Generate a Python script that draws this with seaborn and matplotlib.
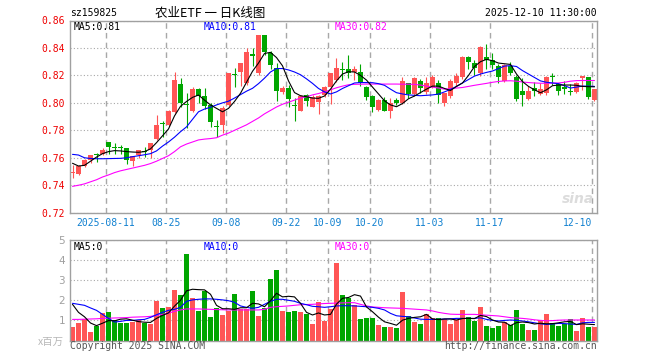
import numpy as np
import pandas as pd
import matplotlib
matplotlib.use("Agg")
import matplotlib.pyplot as plt
import seaborn as sns

# trading days (Oct 1-8 holiday)
days = pd.bdate_range("2025-08-01", "2025-12-10")
days = days[(days < "2025-10-01") | (days > "2025-10-08")]
date_str = [d.strftime("%Y-%m-%d") for d in days]

tick_dates = ["2025-08-11", "2025-08-25", "2025-09-08", "2025-09-22", "2025-10-09",
              "2025-10-20", "2025-11-03", "2025-11-17", "2025-12-10"]
tick_labels = ["2025-08-11", "08-25", "09-08", "09-22", "10-09", "10-20", "11-03", "11-17", "12-10"]

opens = [0.7488, 0.7485, 0.7540, 0.7587, 0.7625, 0.7627, 0.7714, 0.7675, 0.7672, 0.7668,
         0.7578, 0.7620, 0.7646, 0.7656, 0.7736, 0.7852, 0.7838, 0.7935, 0.8137, 0.7988,
         0.7942, 0.8098, 0.8050, 0.7985, 0.7828, 0.7838, 0.7985, 0.8205, 0.8227, 0.8147,
         0.8352, 0.8215, 0.8494, 0.8361, 0.8251, 0.8081, 0.8106, 0.7980, 0.7942, 0.8057,
         0.7972, 0.8008, 0.8057, 0.8117, 0.8166, 0.8246, 0.8246, 0.8222, 0.8222, 0.8118,
         0.8050, 0.7947, 0.8021, 0.7943, 0.8021, 0.8001, 0.8142, 0.8064, 0.8160, 0.8080,
         0.8117, 0.8147, 0.8000, 0.8050, 0.8142, 0.8190, 0.8336, 0.8293, 0.8215, 0.8336,
         0.8312, 0.8267, 0.8161, 0.8267, 0.8190, 0.8088, 0.8025, 0.8110, 0.8064, 0.8069,
         0.8192, 0.8137, 0.8108, 0.8083, 0.8081, 0.8183, 0.8186, 0.8020]
highs = [0.7546, 0.7545, 0.7592, 0.7622, 0.7635, 0.7670, 0.7716, 0.7710, 0.7690, 0.7670,
         0.7615, 0.7660, 0.7675, 0.7710, 0.7910, 0.7867, 0.7950, 0.8227, 0.8180, 0.8070,
         0.8115, 0.8105, 0.8106, 0.8000, 0.7875, 0.7975, 0.8220, 0.8255, 0.8290, 0.8397,
         0.8397, 0.8498, 0.8494, 0.8380, 0.8288, 0.8120, 0.8130, 0.8033, 0.8055, 0.8065,
         0.8055, 0.8060, 0.8125, 0.8220, 0.8324, 0.8300, 0.8348, 0.8270, 0.8280, 0.8125,
         0.8055, 0.8025, 0.8045, 0.8035, 0.8035, 0.8185, 0.8145, 0.8190, 0.8175, 0.8185,
         0.8200, 0.8170, 0.8075, 0.8175, 0.8220, 0.8340, 0.8340, 0.8310, 0.8412, 0.8429,
         0.8360, 0.8280, 0.8285, 0.8300, 0.8205, 0.8180, 0.8125, 0.8150, 0.8145, 0.8195,
         0.8220, 0.8145, 0.8157, 0.8137, 0.8150, 0.8197, 0.8190, 0.8098]
lows = [0.7456, 0.7475, 0.7535, 0.7560, 0.7570, 0.7620, 0.7630, 0.7625, 0.7625, 0.7552,
        0.7540, 0.7595, 0.7605, 0.7600, 0.7730, 0.7755, 0.7830, 0.7925, 0.7970, 0.7815,
        0.7935, 0.7996, 0.7953, 0.7826, 0.7750, 0.7780, 0.7975, 0.8117, 0.8120, 0.8130,
        0.8270, 0.8205, 0.8350, 0.8245, 0.8015, 0.8068, 0.7970, 0.7870, 0.7938, 0.7975,
        0.7968, 0.7920, 0.8045, 0.7990, 0.8150, 0.8166, 0.8179, 0.8170, 0.8125, 0.8020,
        0.7935, 0.7940, 0.7940, 0.7887, 0.7985, 0.7995, 0.8035, 0.8050, 0.8070, 0.8064,
        0.8105, 0.8000, 0.7975, 0.8035, 0.8125, 0.8175, 0.8244, 0.8200, 0.8195, 0.8244,
        0.8244, 0.8143, 0.8155, 0.8205, 0.8010, 0.7977, 0.8020, 0.8050, 0.8055, 0.8055,
        0.8130, 0.8055, 0.8064, 0.8060, 0.8075, 0.8093, 0.8025, 0.8012]
closes = [0.7490, 0.7538, 0.7587, 0.7617, 0.7620, 0.7656, 0.7676, 0.7670, 0.7668, 0.7585,
          0.7612, 0.7656, 0.7642, 0.7705, 0.7838, 0.7848, 0.7942, 0.8166, 0.8000, 0.7982,
          0.8098, 0.8049, 0.7977, 0.7862, 0.7824, 0.7960, 0.8215, 0.8200, 0.8288, 0.8373,
          0.8345, 0.8494, 0.8373, 0.8276, 0.8088, 0.8106, 0.8028, 0.7975, 0.8050, 0.8010,
          0.8045, 0.8050, 0.8118, 0.8215, 0.8251, 0.8242, 0.8215, 0.8246, 0.8145, 0.8041,
          0.7972, 0.8021, 0.7943, 0.8001, 0.8001, 0.8161, 0.8064, 0.8183, 0.8110, 0.8142,
          0.8190, 0.8057, 0.8069, 0.8161, 0.8195, 0.8336, 0.8300, 0.8256, 0.8405, 0.8312,
          0.8276, 0.8186, 0.8276, 0.8219, 0.8025, 0.8057, 0.8088, 0.8088, 0.8098, 0.8190,
          0.8188, 0.8088, 0.8104, 0.8079, 0.8142, 0.8195, 0.8040, 0.8098]

ma5 = [0.7560, 0.7540, 0.7545, 0.7575, 0.7605, 0.7630, 0.7645, 0.7652, 0.7650, 0.7645,
       0.7642, 0.7640, 0.7645, 0.7665, 0.7710, 0.7760, 0.7810, 0.7905, 0.7975, 0.8010,
       0.8040, 0.8057, 0.8020, 0.7985, 0.7960, 0.7935, 0.7960, 0.8010, 0.8070, 0.8150,
       0.8230, 0.8290, 0.8360, 0.8368, 0.8330, 0.8270, 0.8160, 0.8075, 0.8052, 0.8045,
       0.8035, 0.8033, 0.8050, 0.8100, 0.8160, 0.8210, 0.8227, 0.8225, 0.8200, 0.8166,
       0.8115, 0.8065, 0.8015, 0.7985, 0.7972, 0.7995, 0.8030, 0.8050, 0.8075, 0.8100,
       0.8122, 0.8122, 0.8105, 0.8090, 0.8120, 0.8145, 0.8200, 0.8265, 0.8300, 0.8317,
       0.8307, 0.8290, 0.8285, 0.8280, 0.8210, 0.8155, 0.8120, 0.8095, 0.8074, 0.8095,
       0.8125, 0.8130, 0.8130, 0.8130, 0.8128, 0.8120, 0.8118, 0.8117]
ma10 = [0.7625, 0.7620, 0.7600, 0.7595, 0.7593, 0.7593, 0.7594, 0.7595, 0.7596, 0.7600,
        0.7608, 0.7615, 0.7622, 0.7630, 0.7650, 0.7685, 0.7715, 0.7750, 0.7790, 0.7825,
        0.7880, 0.7935, 0.7955, 0.7968, 0.7985, 0.8000, 0.8012, 0.8035, 0.8060, 0.8085,
        0.8106, 0.8140, 0.8180, 0.8225, 0.8250, 0.8250, 0.8240, 0.8225, 0.8205, 0.8175,
        0.8142, 0.8105, 0.8080, 0.8065, 0.8080, 0.8105, 0.8125, 0.8145, 0.8148, 0.8148,
        0.8147, 0.8140, 0.8128, 0.8100, 0.8074, 0.8065, 0.8058, 0.8055, 0.8052, 0.8055,
        0.8058, 0.8064, 0.8080, 0.8098, 0.8120, 0.8145, 0.8170, 0.8195, 0.8210, 0.8222,
        0.8232, 0.8250, 0.8268, 0.8271, 0.8265, 0.8235, 0.8210, 0.8185, 0.8160, 0.8150,
        0.8145, 0.8140, 0.8125, 0.8108, 0.8115, 0.8122, 0.8122, 0.8120]
ma30 = [0.7392, 0.7400, 0.7410, 0.7425, 0.7440, 0.7460, 0.7475, 0.7492, 0.7505, 0.7515,
        0.7525, 0.7535, 0.7545, 0.7558, 0.7575, 0.7595, 0.7615, 0.7645, 0.7680, 0.7700,
        0.7715, 0.7730, 0.7736, 0.7740, 0.7746, 0.7765, 0.7780, 0.7800, 0.7820, 0.7840,
        0.7865, 0.7890, 0.7920, 0.7945, 0.7970, 0.7990, 0.8005, 0.8020, 0.8035, 0.8045,
        0.8058, 0.8068, 0.8080, 0.8095, 0.8110, 0.8122, 0.8132, 0.8135, 0.8136, 0.8137,
        0.8137, 0.8137, 0.8137, 0.8137, 0.8137, 0.8136, 0.8136, 0.8135, 0.8130, 0.8122,
        0.8115, 0.8108, 0.8100, 0.8104, 0.8108, 0.8112, 0.8120, 0.8128, 0.8135, 0.8142,
        0.8150, 0.8156, 0.8160, 0.8161, 0.8158, 0.8152, 0.8148, 0.8145, 0.8143, 0.8143,
        0.8144, 0.8145, 0.8150, 0.8158, 0.8162, 0.8163, 0.8163, 0.8163]

volume = [0.67, 0.85, 1.07, 0.40, 0.72, 1.35, 1.40, 1.02, 0.85, 0.85,
          0.93, 1.02, 0.85, 0.80, 1.97, 1.60, 1.65, 2.52, 2.25, 4.32,
          2.10, 1.45, 2.47, 1.15, 1.60, 1.25, 1.45, 2.30, 1.57, 1.57,
          2.47, 1.20, 1.60, 3.07, 3.50, 1.45, 1.40, 1.45, 1.40, 1.30,
          0.80, 1.90, 0.95, 1.55, 3.85, 2.25, 2.10, 1.77, 1.07, 1.10,
          1.10, 0.75, 0.65, 0.65, 0.60, 2.40, 1.20, 0.90, 0.80, 1.30,
          1.10, 1.10, 1.05, 0.80, 1.02, 1.50, 1.15, 0.97, 1.65, 0.70,
          0.60, 0.70, 0.90, 0.75, 1.50, 0.80, 0.50, 0.50, 1.00, 1.33,
          0.85, 0.72, 0.80, 1.07, 0.45, 1.10, 0.65, 0.65]
vol_ma5 = [1.80, 1.40, 1.18, 0.87, 0.74, 0.86, 0.99, 0.98, 1.06, 1.08,
           1.01, 0.94, 0.91, 0.90, 1.10, 1.25, 1.37, 1.71, 2.00, 2.47,
           2.55, 2.53, 2.52, 2.30, 1.75, 1.58, 1.58, 1.55, 1.63, 1.63,
           1.85, 1.82, 1.68, 1.98, 2.35, 2.17, 2.20, 2.17, 1.85, 1.40,
           1.27, 1.37, 1.27, 1.30, 1.81, 2.10, 2.14, 2.28, 2.21, 1.67,
           1.43, 1.16, 0.93, 0.85, 0.76, 1.01, 1.10, 1.15, 1.18, 1.30,
           1.07, 1.04, 1.07, 1.07, 1.02, 1.09, 1.10, 1.09, 1.25, 1.19,
           1.02, 0.92, 0.91, 0.74, 0.89, 0.92, 0.89, 0.82, 0.86, 0.83,
           0.84, 0.88, 0.93, 0.95, 0.79, 0.83, 0.81, 0.79]
vol_ma10 = [1.85, 1.80, 1.75, 1.62, 1.50, 1.30, 1.10, 0.92, 0.95, 1.00,
            1.00, 1.03, 1.05, 1.15, 1.28, 1.40, 1.50, 1.55, 1.65, 1.95,
            2.02, 2.05, 2.07, 2.07, 2.05, 2.02, 1.98, 1.90, 1.72, 1.65,
            1.60, 1.65, 1.80, 1.95, 2.05, 2.05, 2.00, 1.95, 1.85, 1.78,
            1.70, 1.68, 1.65, 1.68, 1.72, 1.73, 1.73, 1.72, 1.70, 1.68,
            1.65, 1.60, 1.52, 1.35, 1.23, 1.20, 1.18, 1.12, 1.06, 1.05,
            1.05, 1.05, 1.07, 1.08, 1.10, 1.10, 1.10, 1.10, 1.13, 1.05,
            1.00, 0.97, 1.00, 1.02, 1.00, 0.97, 0.93, 0.88, 0.83, 0.80,
            0.82, 0.85, 0.84, 0.82, 0.80, 0.88, 0.90, 0.90]
vol_ma30 = [1.05, 1.05, 1.06, 1.07, 1.08, 1.10, 1.11, 1.12, 1.13, 1.14,
            1.16, 1.17, 1.18, 1.20, 1.25, 1.30, 1.36, 1.45, 1.52, 1.57,
            1.57, 1.57, 1.56, 1.55, 1.54, 1.53, 1.52, 1.52, 1.52, 1.52,
            1.52, 1.52, 1.55, 1.65, 1.68, 1.70, 1.72, 1.75, 1.78, 1.79,
            1.80, 1.82, 1.84, 1.85, 1.86, 1.87, 1.88, 1.88, 1.80, 1.72,
            1.67, 1.65, 1.63, 1.62, 1.61, 1.60, 1.58, 1.56, 1.54, 1.52,
            1.47, 1.40, 1.35, 1.31, 1.30, 1.30, 1.30, 1.30, 1.28, 1.26,
            1.24, 1.22, 1.18, 1.14, 1.12, 1.10, 1.07, 1.03, 1.00, 0.98,
            0.99, 1.01, 1.02, 1.02, 1.02, 1.02, 1.02, 1.02]

RED = "#ff5555"
GREEN = "#00a600"
GRID = "#a8a8a8"
MONO = "DejaVu Sans Mono"
CJK = ["Noto Sans CJK SC", "DejaVu Sans"]

sns.set_style("white")
plt.rcParams["font.family"] = ["DejaVu Sans Mono", "Noto Sans CJK SC"]

df = pd.DataFrame({"date": date_str, "open": opens, "high": highs, "low": lows,
                   "close": closes, "ma5": ma5, "ma10": ma10, "ma30": ma30,
                   "vol": volume, "vma5": vol_ma5, "vma10": vol_ma10, "vma30": vol_ma30})
df["idx"] = np.arange(len(df))
df["dir"] = np.where(df["close"] >= df["open"], "up", "down")
colors = np.where(df["dir"] == "up", RED, GREEN)

W, H = 660, 360
fig = plt.figure(figsize=(6.6, 3.6), dpi=100)
ax_p = fig.add_axes([70 / W, 1 - 212.7 / H, 527 / W, 192.2 / H])
ax_v = fig.add_axes([70 / W, 1 - 340.5 / H, 527 / W, 100.5 / H])

# candles
body_lo = df[["open", "close"]].min(axis=1)
body_h = (df["close"] - df["open"]).abs().clip(lower=0.0008)
ax_p.vlines(df["idx"], df["low"], df["high"], colors=colors, lw=0.8, zorder=2)
ax_p.bar(df["idx"], body_h, bottom=body_lo, width=0.83, color=colors, linewidth=0, zorder=2)

sns.lineplot(data=df, x="idx", y="ma30", ax=ax_p, color="#ff00ff", lw=0.8, zorder=3)
sns.lineplot(data=df, x="idx", y="ma10", ax=ax_p, color="#0000ff", lw=0.8, zorder=3)
sns.lineplot(data=df, x="idx", y="ma5", ax=ax_p, color="black", lw=0.8, zorder=3)

# volume
sns.barplot(data=df, x="idx", y="vol", hue="dir", palette={"up": RED, "down": GREEN},
            native_scale=True, width=0.83, dodge=False, legend=False, errorbar=None,
            saturation=1, linewidth=0, ax=ax_v)
sns.lineplot(data=df, x="idx", y="vma30", ax=ax_v, color="#ff00ff", lw=0.8, zorder=3)
sns.lineplot(data=df, x="idx", y="vma10", ax=ax_v, color="#0000ff", lw=0.8, zorder=3)
sns.lineplot(data=df, x="idx", y="vma5", ax=ax_v, color="black", lw=0.8, zorder=3)

tick_pos = [date_str.index(d) - 0.417 for d in tick_dates]
for ax in (ax_p, ax_v):
    ax.set_xlim(-0.417, len(df) - 0.583)
    ax.set_xticks(tick_pos)
    ax.set_xlabel("")
    ax.set_ylabel("")
    ax.set_axisbelow(True)
    ax.xaxis.grid(True, color=GRID, lw=1.0, ls=(0, (4, 3)))
    ax.yaxis.grid(True, color=GRID, lw=0.8, ls=(0, (1, 2)))
    for s in ax.spines.values():
        s.set_visible(True)
        s.set_color("#a0a0a0")
        s.set_linewidth(1.0)
    ax.tick_params(length=0)

ax_p.set_ylim(0.72, 0.86)
yt = np.round(np.arange(0.72, 0.8601, 0.02), 2)
ax_p.set_yticks(yt)
ax_p.set_yticklabels([f"{v:.2f}" for v in yt], color="#ee0000", fontsize=7, family=MONO)
ax_p.tick_params(axis="y", pad=3.5)
ax_p.set_xticklabels(tick_labels, color="#1080d0", fontsize=7, family=MONO)
ax_p.tick_params(axis="x", pad=3.5)
ax_p.get_xticklabels()[-1].set_horizontalalignment("right")

ax_v.set_ylim(0, 5)
ax_v.set_yticks([1, 2, 3, 4, 5])
ax_v.set_yticklabels(["1", "2", "3", "4", "5"], color="#a0a0a0", fontsize=7.5, family="DejaVu Sans")
ax_v.tick_params(axis="y", pad=3.5)
ax_v.set_xticklabels([])

# texts
def ftext(x, y, s, **kw):
    fig.text(x / W, 1 - y / H, s, va="center", **kw)

ftext(70, 13, "sz159825", fontsize=7, family=MONO, color="black")
ftext(210, 13, "农业ETF 一 日K线图", fontsize=9, family=CJK, ha="center", color="black")
ftext(597, 13, "2025-12-10 11:30:00", fontsize=7, family=MONO, ha="right", color="black")
ftext(74, 26.5, f"MA5:{ma5[-1]:.2f}", fontsize=7, family=MONO, color="black")
ftext(204, 26.5, f"MA10:{ma10[-1]:.2f}", fontsize=7, family=MONO, color="#0000ff")
ftext(335, 26.5, f"MA30:{ma30[-1]:.2f}", fontsize=7, family=MONO, color="#ff00ff")
ftext(74, 247, "MA5:0", fontsize=7, family=MONO, color="black")
ftext(204, 247, "MA10:0", fontsize=7, family=MONO, color="#0000ff")
ftext(335, 247, "MA30:0", fontsize=7, family=MONO, color="#ff00ff")
ftext(64, 342, "x百万", fontsize=7.5, family=CJK, ha="right", color="#b8b8b8")
ftext(70, 346, "Copyright 2025 SINA.COM", fontsize=7, family=MONO, color="#555555")
ftext(597, 346, "http://finance.sina.com.cn", fontsize=7, family=MONO, ha="right", color="#555555")
ftext(578, 199, "sina", fontsize=10, family="DejaVu Sans", ha="center", color="#dcdcdc",
      style="italic", weight="bold")

fig.savefig("out.png", dpi=100, facecolor="white")
